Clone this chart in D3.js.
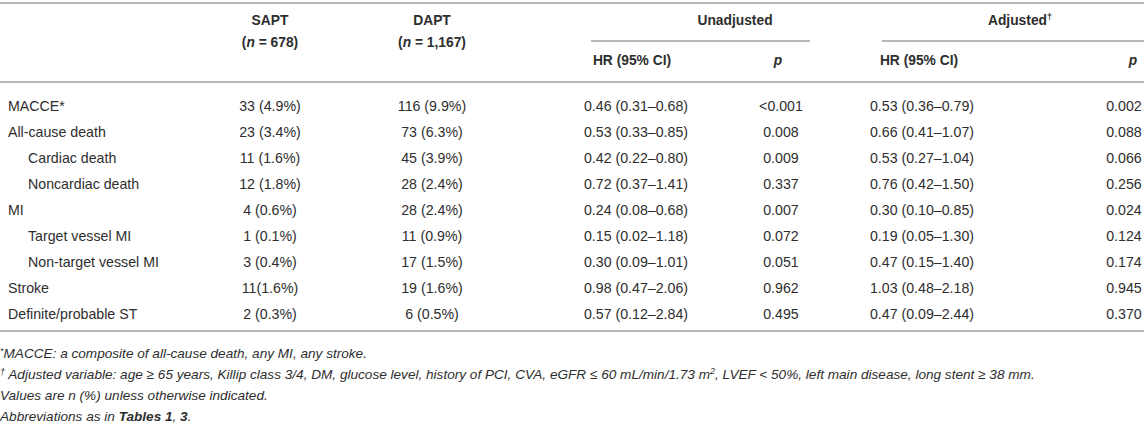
<!DOCTYPE html>
<html><head><meta charset="utf-8">
<script src="https://cdn.jsdelivr.net/npm/d3@7"></script>
<style>
html,body{margin:0;padding:0;background:#fff;}
svg text{font-family:"Liberation Sans",Arial,Helvetica,sans-serif;fill:#2e2e2e;}
</style></head>
<body><svg id="t" width="1144" height="426"></svg>
<script>
const categories = ["MACCE*","All-cause death","Cardiac death","Noncardiac death","MI","Target vessel MI","Non-target vessel MI","Stroke","Definite/probable ST"];
const indent = [0,0,1,1,0,1,1,0,0];
const sapt = ["33 (4.9%)","23 (3.4%)","11 (1.6%)","12 (1.8%)","4 (0.6%)","1 (0.1%)","3 (0.4%)","11(1.6%)","2 (0.3%)"];
const dapt = ["116 (9.9%)","73 (6.3%)","45 (3.9%)","28 (2.4%)","28 (2.4%)","11 (0.9%)","17 (1.5%)","19 (1.6%)","6 (0.5%)"];
const hrUnadj = ["0.46 (0.31–0.68)","0.53 (0.33–0.85)","0.42 (0.22–0.80)","0.72 (0.37–1.41)","0.24 (0.08–0.68)","0.15 (0.02–1.18)","0.30 (0.09–1.01)","0.98 (0.47–2.06)","0.57 (0.12–2.84)"];
const pUnadj = ["<0.001","0.008","0.009","0.337","0.007","0.072","0.051","0.962","0.495"];
const hrAdj = ["0.53 (0.36–0.79)","0.66 (0.41–1.07)","0.53 (0.27–1.04)","0.76 (0.42–1.50)","0.30 (0.10–0.85)","0.19 (0.05–1.30)","0.47 (0.15–1.40)","1.03 (0.48–2.18)","0.47 (0.09–2.44)"];
const pAdj = ["0.002","0.088","0.066","0.256","0.024","0.124","0.174","0.945","0.370"];
const columns = ["label","sapt","dapt","hrUnadj","pUnadj","hrAdj","pAdj"];
const colData = {sapt, dapt, hrUnadj, pUnadj, hrAdj, pAdj};

const svg = d3.select("#t");
const fs = 14.2;
const hfs = 13.8;
const lineCol = "#b8b8b8";

const x = d3.scaleOrdinal().domain(columns).range([8, 270, 432, 636, 781, 922, 1124]);
const y = d3.scalePoint().domain(d3.range(categories.length)).range([106, 314]);

// rules
function hline(x1,x2,yy){ svg.append("line").attr("x1",x1).attr("x2",x2).attr("y1",yy).attr("y2",yy).attr("stroke",lineCol).attr("stroke-width",2); }
hline(0,1144,3);
hline(0,1144,82);
hline(0,1144,331);
hline(591,810,41);
hline(882,1144,41);

// headers
const hb = svg.append("g").attr("font-weight","bold").attr("font-size",hfs);
hb.append("text").attr("x",x("sapt")).attr("y",25).attr("text-anchor","middle").text("SAPT");
const n1 = hb.append("text").attr("x",x("sapt")).attr("y",47).attr("text-anchor","middle");
n1.append("tspan").text("(");n1.append("tspan").attr("font-style","italic").text("n");n1.append("tspan").text(" = 678)");
hb.append("text").attr("x",x("dapt")).attr("y",25).attr("text-anchor","middle").text("DAPT");
const n2 = hb.append("text").attr("x",x("dapt")).attr("y",47).attr("text-anchor","middle");
n2.append("tspan").text("(");n2.append("tspan").attr("font-style","italic").text("n");n2.append("tspan").text(" = 1,167)");
hb.append("text").attr("x",735).attr("y",25).attr("text-anchor","middle").text("Unadjusted");
const adj = hb.append("text").attr("x",1020).attr("y",25).attr("text-anchor","middle");
adj.append("tspan").text("Adjusted");
adj.append("tspan").attr("font-size",9).attr("dy",-5).text("†");
hb.append("text").attr("x",632).attr("y",65).attr("text-anchor","middle").text("HR (95% CI)");
hb.append("text").attr("x",778).attr("y",65).attr("text-anchor","middle").attr("font-style","italic").text("p");
hb.append("text").attr("x",919).attr("y",65).attr("text-anchor","middle").text("HR (95% CI)");
hb.append("text").attr("x",1133).attr("y",65).attr("text-anchor","middle").attr("font-style","italic").text("p");

// body
const body = svg.append("g").attr("font-size",fs);
body.selectAll("text.lab").data(categories).join("text").attr("class","lab")
  .attr("x",(d,i)=>x("label") + (indent[i]?20:0)).attr("y",(d,i)=>y(i)).attr("dy","0.35em").text(d=>d);
Object.keys(colData).forEach(k=>{
  body.selectAll("text."+k).data(colData[k]).join("text").attr("class",k)
    .attr("x",x(k)).attr("y",(d,i)=>y(i)).attr("dy","0.35em").attr("text-anchor","middle").text(d=>d);
});

// footnotes
const fn = svg.append("g").attr("font-size",13.6).attr("font-style","italic");
const f1 = fn.append("text").attr("x",0).attr("y",358);
f1.append("tspan").attr("font-size",9).attr("dy",-4).text("*");
f1.append("tspan").attr("dy",4).text("MACCE: a composite of all-cause death, any MI, any stroke.");
const f2 = fn.append("text").attr("x",0).attr("y",379);
f2.append("tspan").attr("font-size",9).attr("dy",-4).text("†");
f2.append("tspan").attr("dy",4).text(" Adjusted variable: age ≥ 65 years, Killip class 3/4, DM, glucose level, history of PCI, CVA, eGFR ≤ 60 mL/min/1.73 m");
f2.append("tspan").attr("font-size",9).attr("dy",-5).text("2");
f2.append("tspan").attr("dy",5).text(", LVEF < 50%, left main disease, long stent ≥ 38 mm.");
fn.append("text").attr("x",0).attr("y",400).text("Values are n (%) unless otherwise indicated.");
const f4 = fn.append("text").attr("x",0).attr("y",421);
f4.append("tspan").text("Abbreviations as in ");
f4.append("tspan").attr("font-weight","bold").text("Tables 1");
f4.append("tspan").text(", ");
f4.append("tspan").attr("font-weight","bold").text("3");
f4.append("tspan").text(".");
</script></body></html>
